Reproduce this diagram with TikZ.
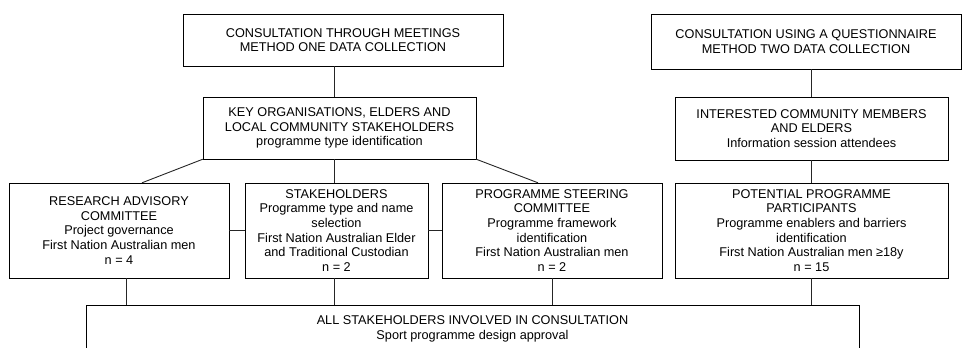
\documentclass[tikz,border=0pt]{standalone}
\usepackage{fontspec}
\setmainfont{Liberation Sans}
\usetikzlibrary{positioning}

\begin{document}
\begin{tikzpicture}[
  x=1pt, y=-1pt,
  box/.style={draw, align=center, inner sep=2pt, font=\fontsize{12.7}{14.7}\selectfont},
  link/.style={line width=0.9pt, draw=black!85}
]
  \useasboundingbox (0,0) rectangle (962,348);
  \begin{scope}
  \clip (0,0) rectangle (962,348);
  \node[box, minimum width=320pt, minimum height=52pt] (meet) at (343,40) {CONSULTATION THROUGH MEETINGS\\METHOD ONE DATA COLLECTION};
  \node[box, minimum width=310pt, minimum height=55pt] (quest) at (806,41.5) {CONSULTATION USING A QUESTIONNAIRE\\METHOD TWO DATA COLLECTION};
  \node[box, minimum width=273pt, minimum height=62pt] (keyorg) at (339.5,128) {KEY ORGANISATIONS, ELDERS AND\\LOCAL COMMUNITY STAKEHOLDERS\\programme type identification};
  \node[box, minimum width=273pt, minimum height=63pt] (members) at (811.5,128.5) {INTERESTED COMMUNITY MEMBERS\\AND ELDERS\\Information session attendees};
  \node[box, minimum width=220pt, minimum height=95pt] (advisory) at (119,230.5) {RESEARCH ADVISORY\\COMMITTEE\\Project governance\\First Nation Australian men\\n = 4};
  \node[box, minimum width=183pt, minimum height=95pt] (stake) at (336.5,230.5) {STAKEHOLDERS\\Programme type and name\\selection\\First Nation Australian Elder\\and Traditional Custodian\\n = 2};
  \node[box, minimum width=220pt, minimum height=95pt] (steering) at (552,230.5) {PROGRAMME STEERING\\COMMITTEE\\Programme framework\\identification\\First Nation Australian men\\n = 2};
  \node[box, minimum width=273pt, minimum height=95pt] (partic) at (811.5,230.5) {POTENTIAL PROGRAMME\\PARTICIPANTS\\Programme enablers and barriers\\identification\\First Nation Australian men ≥18y\\n = 15};
  \node[box, minimum width=773pt, minimum height=48pt] (all) at (472.5,329) {ALL STAKEHOLDERS INVOLVED IN CONSULTATION\\Sport programme design approval};

  \draw[link] ([xshift=-9pt]meet.south) -- ([xshift=-5.5pt]keyorg.north);
  \draw[link] ([xshift=-5.5pt]keyorg.south) -- ([xshift=-2.5pt]stake.north);
  \draw[link] (keyorg.south west) -- ([xshift=23pt]advisory.north);
  \draw[link] (keyorg.south east) -- ([xshift=-14pt]steering.north);
  \draw[link] (members.north |- quest.south) -- (members.north);
  \draw[link] (members.south) -- (partic.north);
  \draw[link] (advisory.east) -- (stake.west);
  \draw[link] (stake.east) -- (steering.west);
  \draw[link] ([xshift=7pt]advisory.south) -- ([xshift=7pt]advisory.south |- all.north);
  \draw[link] ([xshift=-2.5pt]stake.south) -- ([xshift=-2.5pt]stake.south |- all.north);
  \draw[link] (steering.south) -- (steering.south |- all.north);
  \draw[link] (partic.south) -- (partic.south |- all.north);
  \end{scope}
\end{tikzpicture}
\end{document}
